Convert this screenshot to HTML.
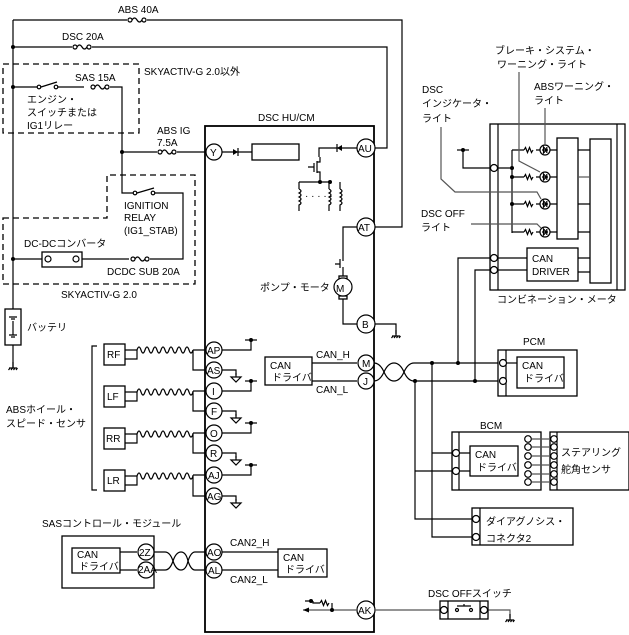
<!DOCTYPE html>
<html><head><meta charset="utf-8"><style>
html,body{margin:0;padding:0;background:#fff;}
svg{display:block;}
text{font-family:"Liberation Sans","Noto Sans CJK JP",sans-serif;font-size:10px;fill:#000;}
.w{fill:none;stroke:#000;stroke-width:1.2;}
.g{fill:none;stroke:#555;stroke-width:1.2;}
.d{fill:none;stroke:#000;stroke-width:1.3;stroke-dasharray:6,4;}
.c{fill:#fff;stroke:#000;stroke-width:1.2;}
.b{fill:#fff;stroke:#000;stroke-width:1.3;}
</style></head><body>
<svg width="629" height="635" viewBox="0 0 629 635" xmlns="http://www.w3.org/2000/svg">
<defs>
<g id="fuse"><rect x="-10" y="-3" width="20" height="6" fill="#fff"/><circle cx="-7" cy="0" r="2" class="c"/><circle cx="7" cy="0" r="2" class="c"/><path class="w" d="M-5,0 q2.5,-4 5,0 q2.5,4 5,0"/></g>
<g id="gnd"><path class="w" d="M0,0 v6 M-4,6 h8"/><path class="w" d="M-3,6 l-1.5,2 M-0.5,6 l-1.5,2 M2,6 l-1.5,2 M4.5,6 l-1.5,2" stroke-width="0.8"/></g>
<g id="sg"><path class="w" d="M0,0 v4 M-5,4 h10 l-5,5 z"/></g>
<g id="vc"><path class="w" d="M-6,0 h12"/><circle cx="0" cy="0" r="2" fill="#000"/></g>
<path id="sq" d="M0,0 q2,-6 4,0 q2,6 4,0 q2,-6 4,0 q2,6 4,0 q2,-6 4,0 q2,6 4,0 q2,-6 4,0 q2,6 4,0 q2,-6 4,0 q2,6 4,0 q2,-6 4,0 q2,6 4,0 q2,-6 4,0 q2,6 4,0"/>
<g id="twist"><path class="w" d="M0,0 q6,0 10,9 q4,9 10,9 q6,0 10,-9 q4,-9 10,-9"/><path class="w" d="M0,18 q6,0 10,-9 q4,-9 10,-9 q6,0 10,9 q4,9 10,9"/></g>
<g id="lamp"><circle cx="0" cy="0" r="5" class="c"/><path class="w" d="M-3,0 h6 M-1.5,-3 v6 l3,-3 z M1.8,-3 v6" stroke-width="1"/></g>
<g id="res"><path class="w" d="M-6,0 l1.5,-2.5 l2,5 l2,-5 l2,5 l1.5,-2.5" stroke-width="1"/></g>
</defs>

<path class="w" d="M13,20 V309 M13,345 V368"/>
<use href="#gnd" x="13" y="362"/>
<rect x="5" y="309" width="16" height="36" class="b"/>
<path class="w" d="M9,317 h8 M11,319 h4 M13,321 v14 M9,335 h8 M11,337 h4"/>
<text x="27" y="331">バッテリ</text>
<circle cx="13" cy="47" r="2" fill="#000"/><circle cx="13" cy="87" r="2" fill="#000"/><circle cx="13" cy="259" r="2" fill="#000"/>

<text x="118" y="13">ABS 40A</text>
<path class="w" d="M13,20 H402 V227 H374"/>
<use href="#fuse" x="137" y="20"/>
<text x="62" y="40">DSC 20A</text>
<path class="w" d="M13,47 H387 V148 H374"/>
<use href="#fuse" x="82" y="47"/>

<rect x="3" y="64" width="136" height="69" class="d"/>
<text x="144" y="75">SKYACTIV-G 2.0以外</text>
<text x="75" y="81">SAS 15A</text>
<path class="w" d="M13,87 H37 M58,87 H84 M100,87 H122 V193 H133 M155,193 H183 V259 H145 M129,259 H82 M42,259 H13"/>
<circle cx="39" cy="87" r="1.8" class="c"/><circle cx="56" cy="87" r="1.8" class="c"/><path class="w" d="M41,87 L57,82"/>
<use href="#fuse" x="100" y="87"/>
<text x="27" y="103">エンジン・</text>
<text x="27" y="116">スイッチまたは</text>
<text x="27" y="129">IG1リレー</text>
<circle cx="122" cy="152" r="2" fill="#000"/>
<path class="w" d="M122,152 H205"/>
<use href="#fuse" x="167" y="152"/>
<text x="157" y="134">ABS IG</text>
<text x="157" y="146">7.5A</text>
<circle cx="135" cy="193" r="1.8" class="c"/><circle cx="153" cy="193" r="1.8" class="c"/><path class="w" d="M137,193 L154,188"/>
<use href="#fuse" x="140" y="259"/>

<path class="d" d="M3,218 H107 V175 H195 V284 H3 Z"/>
<text x="124" y="209">IGNITION</text>
<text x="124" y="221">RELAY</text>
<text x="124" y="234">(IG1_STAB)</text>
<text x="24" y="247">DC-DCコンバータ</text>
<rect x="42" y="252" width="40" height="15" class="b"/>
<circle cx="48" cy="259" r="3" class="c"/><circle cx="76" cy="259" r="3" class="c"/>
<text x="107" y="275">DCDC SUB 20A</text>
<text x="61" y="298">SKYACTIV-G 2.0</text>

<text x="258" y="121">DSC HU/CM</text>
<rect x="205" y="126" width="169" height="506" fill="none" stroke="#000" stroke-width="1.8"/>
<circle cx="214" cy="152" r="8" class="c"/><text x="210" y="156">Y</text>
<path class="w" d="M222,152 H252"/><path d="M233,149 v6 l5,-3 z" fill="#000"/><path class="w" d="M238,148 v8"/>
<rect x="252" y="144" width="47" height="16" class="b"/>
<circle cx="366" cy="148" r="9" class="c"/><text x="358" y="152">AU</text>
<path class="w" d="M357,148 H319 V157"/><path d="M342,145 v6 l-5,-3 z" fill="#000"/><path class="w" d="M337,144 v8"/>
<path class="w" d="M314,163 v9 M317,161 v12 M317,162 h3 v-5 M317,172 h3 v3 M308,167 h6 M320,175 V182 M299,182 H331 M299,182 v7 M329,182 v7 M340,182 v7"/>
<circle cx="320" cy="182" r="2" fill="#000"/><circle cx="330" cy="182" r="2" fill="#000"/>
<path class="w" d="M299,189 q4,2 0,4 q4,2 0,4 q4,2 0,4 q4,2 0,4 v6 M329,189 q4,2 0,4 q4,2 0,4 q4,2 0,4 q4,2 0,4 v6 M340,189 q4,2 0,4 q4,2 0,4 q4,2 0,4 q4,2 0,4 v6"/>
<text x="305" y="199" font-size="9">· · · · ·</text>
<circle cx="366" cy="227" r="9" class="c"/><text x="358" y="231">AT</text>
<path class="w" d="M357,227 H343 V261 M343,267 V278 M343,297 V324 H357"/>
<path class="w" d="M340,259 v9 M335,264 h5"/>
<rect x="339" y="276" width="8" height="3" class="b"/><rect x="339" y="296" width="8" height="3" class="b"/>
<circle cx="343" cy="287" r="9" class="c"/><text x="336" y="292" font-size="12">M</text>
<text x="260" y="291">ポンプ・モータ</text>
<circle cx="366" cy="324" r="9" class="c"/><text x="362" y="328">B</text>
<path class="w" d="M375,324 H396 V334"/><use href="#gnd" x="396" y="330"/>

<path class="w" d="M97,346 H92 V490 H97"/>
<text x="6" y="413">ABSホイール・</text>
<text x="6" y="427">スピード・センサ</text>
<g>
<rect x="104" y="344" width="21" height="21" class="b"/><text x="107" y="358">RF</text>
<rect x="104" y="386" width="21" height="21" class="b"/><text x="107" y="400">LF</text>
<rect x="104" y="428" width="21" height="21" class="b"/><text x="106" y="442">RR</text>
<rect x="104" y="470" width="21" height="21" class="b"/><text x="107" y="484">LR</text>
</g>
<g class="w">
<path d="M125,350 H137 M125,359 H137 V350 M193,350 H205 M193,350 V370 H205"/>
<use href="#sq" x="137" y="350"/>
<path d="M125,392 H137 M125,401 H137 V392 M193,391 H205 M193,391 V411 H205"/>
<use href="#sq" x="137" y="392"/>
<path d="M125,434 H137 M125,443 H137 V434 M193,433 H205 M193,433 V453 H205"/>
<use href="#sq" x="137" y="434"/>
<path d="M125,476 H137 M125,485 H137 V476 M193,475 H205 M193,475 V496 H205"/>
<use href="#sq" x="137" y="476"/>
</g>
<g class="w">
<path d="M222,350 H251 V340 M222,370 H236 V375 M222,391 H251 V381 M222,411 H236 V416 M222,433 H251 V423 M222,453 H236 V458 M222,475 H251 V465 M222,496 H236 V501"/>
</g>
<use href="#vc" x="251" y="340"/><use href="#vc" x="251" y="381"/><use href="#vc" x="251" y="423"/><use href="#vc" x="251" y="465"/>
<use href="#sg" x="236" y="373"/><use href="#sg" x="236" y="414"/><use href="#sg" x="236" y="456"/><use href="#sg" x="236" y="499"/>
<circle cx="214" cy="350" r="8" class="c"/><text x="207" y="354">AP</text>
<circle cx="214" cy="370" r="8" class="c"/><text x="207" y="374">AS</text>
<circle cx="214" cy="391" r="8" class="c"/><text x="212" y="395">I</text>
<circle cx="214" cy="411" r="8" class="c"/><text x="211" y="415">F</text>
<circle cx="214" cy="433" r="8" class="c"/><text x="210" y="437">O</text>
<circle cx="214" cy="453" r="8" class="c"/><text x="210" y="457">R</text>
<circle cx="214" cy="475" r="8" class="c"/><text x="208" y="479">AJ</text>
<circle cx="214" cy="496" r="8" class="c"/><text x="207" y="500">AG</text>

<rect x="265" y="357" width="47" height="28" class="b"/>
<text x="270" y="369">CAN</text><text x="272" y="381">ドライバ</text>
<path class="w" d="M312,363 H357 M312,381 H357"/>
<text x="316" y="358">CAN_H</text><text x="316" y="393">CAN_L</text>
<circle cx="366" cy="363" r="8" class="c"/><text x="362" y="367">M</text>
<circle cx="366" cy="381" r="8" class="c"/><text x="363" y="385">J</text>
<use href="#twist" x="374" y="363"/>
<path class="w" d="M414,363 H498 M414,381 H498"/>
<circle cx="432" cy="363" r="2" fill="#000"/><circle cx="458" cy="363" r="2" fill="#000"/>
<circle cx="415" cy="381" r="2" fill="#000"/><circle cx="475" cy="381" r="2" fill="#000"/>
<path class="w" d="M458,363 V258 H490 M475,381 V270 H490"/>
<path class="w" d="M432,363 V537 H472 M432,453 H452 M415,381 V519 H472 M415,471 H452"/>

<text x="523" y="345">PCM</text>
<rect x="498" y="350" width="79" height="46" class="b"/>
<path class="w" d="M506,350 V396"/>
<circle cx="503" cy="363" r="3.5" class="c"/><circle cx="503" cy="381" r="3.5" class="c"/>
<rect x="517" y="357" width="47" height="31" class="b"/>
<path class="w" d="M507,363 H517"/>
<text x="522" y="369">CAN</text><text x="524" y="382">ドライバ</text>

<text x="480" y="429">BCM</text>
<rect x="452" y="432" width="89" height="58" class="b"/>
<path class="w" d="M459,432 V490"/>
<circle cx="456" cy="453" r="3.5" class="c"/><circle cx="456" cy="471" r="3.5" class="c"/>
<rect x="470" y="446" width="48" height="30" class="b"/>
<path class="w" d="M460,453 H470 M460,471 H470"/>
<text x="475" y="458">CAN</text><text x="477" y="471">ドライバ</text>
<rect x="550" y="432" width="79" height="58" class="b"/>
<path class="w" d="M557,432 V490"/>
<g class="g"><path d="M532,439 H550 M532,447 H550 M532,456 H550 M532,465 H550 M532,474 H550 M532,482 H550"/></g>
<g>
<circle cx="528" cy="439" r="3.3" class="c"/><circle cx="528" cy="447" r="3.3" class="c"/><circle cx="528" cy="456" r="3.3" class="c"/><circle cx="528" cy="465" r="3.3" class="c"/><circle cx="528" cy="474" r="3.3" class="c"/><circle cx="528" cy="482" r="3.3" class="c"/>
<circle cx="554" cy="439" r="3.3" class="c"/><circle cx="554" cy="447" r="3.3" class="c"/><circle cx="554" cy="456" r="3.3" class="c"/><circle cx="554" cy="465" r="3.3" class="c"/><circle cx="554" cy="474" r="3.3" class="c"/><circle cx="554" cy="482" r="3.3" class="c"/>
</g>
<text x="561" y="456">ステアリング</text><text x="561" y="473">舵角センサ</text>

<rect x="472" y="508" width="101" height="37" class="b"/>
<path class="w" d="M480,508 V545"/>
<circle cx="476" cy="519" r="3.5" class="c"/><circle cx="476" cy="537" r="3.5" class="c"/>
<text x="486" y="525">ダイアグノシス・</text><text x="486" y="542">コネクタ2</text>

<rect x="490" y="124" width="135" height="166" class="b"/>
<path class="w" d="M498,124 V290 M617,124 V290"/>
<text x="497" y="303">コンビネーション・メータ</text>
<circle cx="494" cy="168" r="3.5" class="c"/><circle cx="494" cy="258" r="3.5" class="c"/><circle cx="494" cy="270" r="3.5" class="c"/>
<path class="w" d="M490,168 H463 V150"/><use href="#vc" x="463" y="150"/>
<path class="w" d="M498,168 H512 M512,150 V233 M512,150 H524 M512,177 H524 M512,204 H524 M512,232 H524"/>
<circle cx="512" cy="168" r="2" fill="#000"/><circle cx="512" cy="177" r="2" fill="#000"/><circle cx="512" cy="204" r="2" fill="#000"/>
<use href="#res" x="530" y="150"/><use href="#res" x="530" y="177"/><use href="#res" x="530" y="204"/><use href="#res" x="530" y="232"/>
<path class="w" d="M536,150 H540 M536,177 H540 M536,204 H540 M536,232 H540"/>
<use href="#lamp" x="545" y="150"/><use href="#lamp" x="545" y="177"/><use href="#lamp" x="545" y="204"/><use href="#lamp" x="545" y="232"/>
<path class="w" d="M550,150 H557 M550,177 H557 M550,204 H557 M550,232 H557"/>
<rect x="557" y="138" width="21" height="101" class="b"/>
<rect x="590" y="139" width="21" height="144" class="b"/>
<path class="w" d="M578,150 H590 M578,204 H590 M578,232 H590"/>
<path class="g" d="M578,177 H590"/>
<rect x="527" y="248" width="51" height="33" class="b"/>
<text x="532" y="262">CAN</text><text x="532" y="275">DRIVER</text>
<path class="w" d="M498,258 H527 M498,270 H527 M578,258 H590 M578,272 H590"/>
<text x="495" y="54">ブレーキ・システム・</text><text x="497" y="68">ワーニング・ライト</text>
<path class="g" d="M519,72 V161 L540,172"/>
<text x="534" y="90">ABSワーニング・</text><text x="534" y="104">ライト</text>
<path class="g" d="M545,108 V145"/>
<text x="422" y="93">DSC</text><text x="422" y="107">インジケータ・</text><text x="422" y="122">ライト</text>
<path class="g" d="M441,127 V179 L455,192 H537 L541,199"/>
<text x="421" y="217">DSC OFF</text><text x="421" y="231">ライト</text>
<path class="g" d="M471,224 H537 L541,228"/>

<text x="42" y="527">SASコントロール・モジュール</text>
<rect x="62" y="536" width="92" height="52" class="b"/>
<rect x="72" y="548" width="48" height="25" class="b"/>
<text x="77" y="558">CAN</text><text x="79" y="570">ドライバ</text>
<path class="w" d="M120,552 H137 M120,570 H137"/>
<circle cx="146" cy="552" r="8" class="c"/><text x="139" y="556" font-size="9">2Z</text>
<circle cx="146" cy="570" r="8" class="c"/><text x="138" y="573" font-size="7">2AA</text>
<path class="w" d="M154,552 H165 M154,570 H165 M195,552 H206 M195,570 H206"/>
<g transform="translate(165,552)"><path class="w" d="M0,0 q5,0 8,9 q3,9 8,9 q5,0 7,-9 q3,-9 7,-9"/><path class="w" d="M0,18 q5,0 8,-9 q3,-9 8,-9 q5,0 7,9 q3,9 7,9"/></g>
<circle cx="214" cy="552" r="8" class="c"/><text x="207" y="556">AO</text>
<circle cx="214" cy="570" r="8" class="c"/><text x="208" y="574">AL</text>
<path class="w" d="M222,552 H278 M222,570 H278"/>
<text x="230" y="546">CAN2_H</text><text x="230" y="583">CAN2_L</text>
<rect x="278" y="549" width="49" height="28" class="b"/>
<text x="283" y="561">CAN</text><text x="285" y="573">ドライバ</text>

<circle cx="366" cy="610" r="9" class="c"/><text x="358" y="614">AK</text>
<path class="g" d="M303,610 H357"/><path d="M303,610 l6,-2.5 v5 z" fill="#000"/>
<path class="w" d="M305,601 H313 M313,601 V603 H320"/><circle cx="311" cy="601" r="2" fill="#000"/>
<use href="#res" x="326" y="603"/><path class="w" d="M332,603 V610"/><circle cx="332" cy="610" r="2" fill="#000"/>
<path class="g" d="M375,610 H440 M488,610 H510 V618"/><use href="#gnd" x="510" y="614"/>
<text x="428" y="597">DSC OFFスイッチ</text>
<rect x="440" y="601" width="48" height="18" class="b"/>
<path class="w" d="M448,601 V619 M480,601 V619"/>
<circle cx="444" cy="610" r="3.5" class="c"/><circle cx="484" cy="610" r="3.5" class="c"/>
<circle cx="457" cy="610" r="1.5" class="c"/><circle cx="471" cy="610" r="1.5" class="c"/>
<path class="w" d="M457,606 H471 M464,606 V604"/>
</svg>
</body></html>
